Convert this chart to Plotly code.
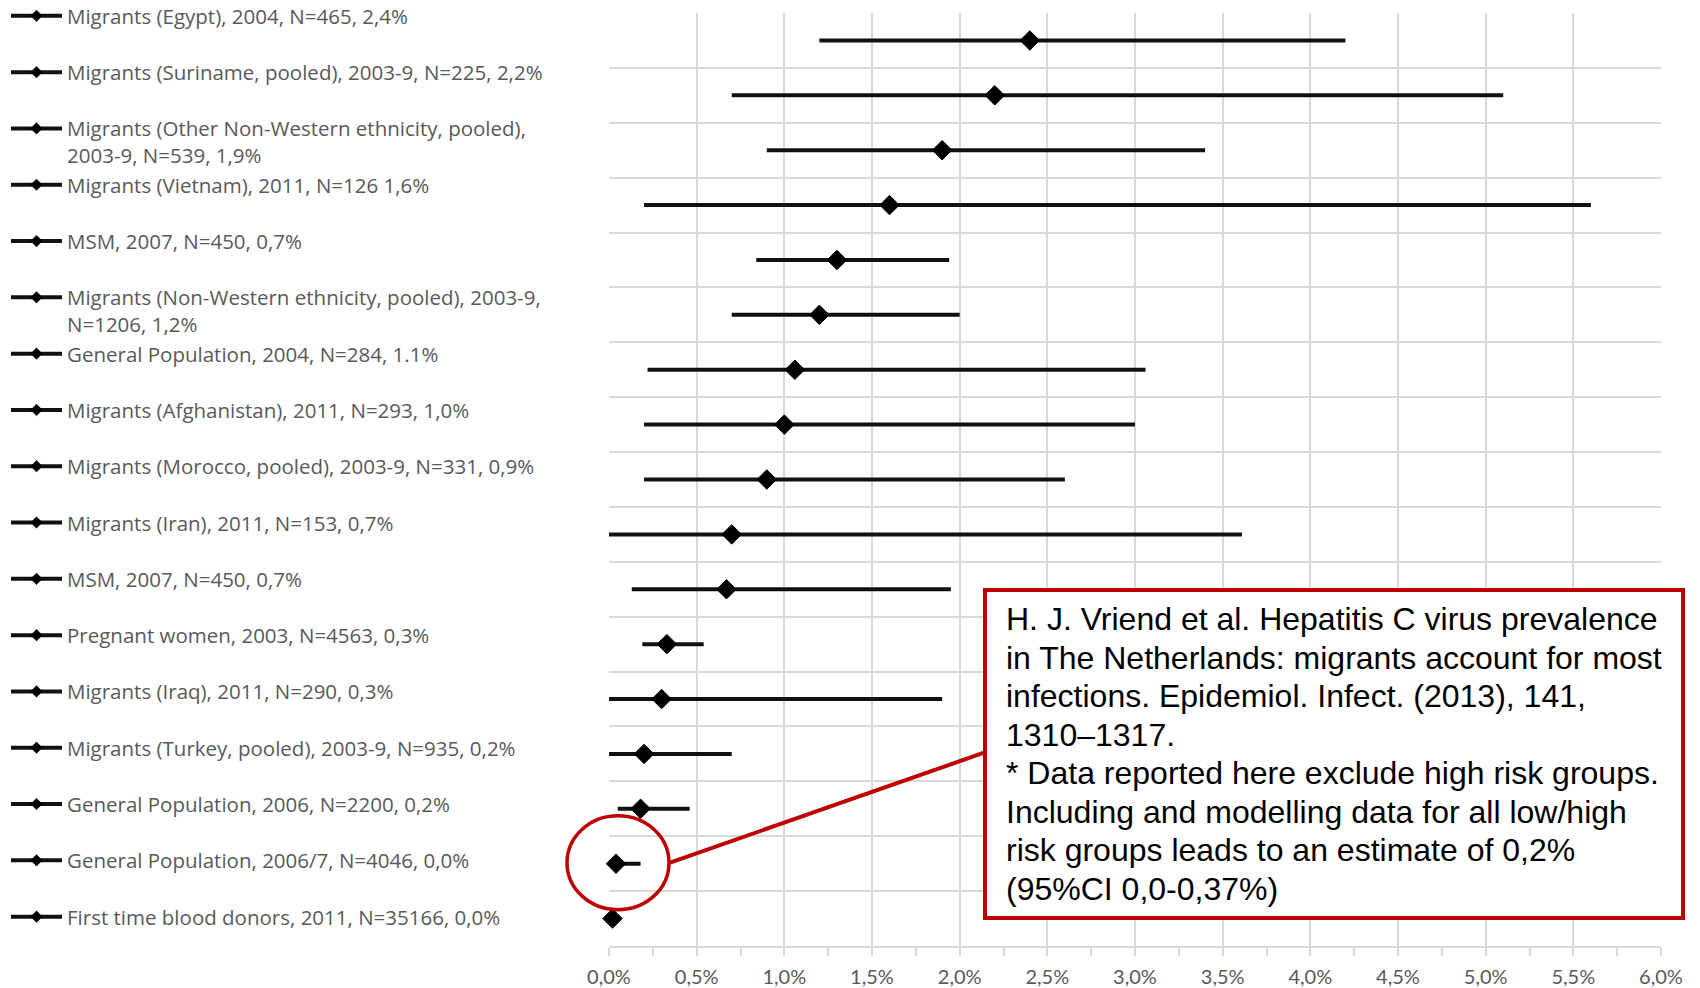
import plotly.graph_objects as go

labels = [
    "Migrants (Egypt), 2004, N=465, 2,4%",
    "Migrants (Suriname, pooled), 2003-9, N=225, 2,2%",
    "Migrants (Other Non-Western ethnicity, pooled),<br>2003-9, N=539, 1,9%",
    "Migrants (Vietnam), 2011, N=126 1,6%",
    "MSM, 2007, N=450, 0,7%",
    "Migrants (Non-Western ethnicity, pooled), 2003-9,<br>N=1206, 1,2%",
    "General Population, 2004, N=284, 1.1%",
    "Migrants (Afghanistan), 2011, N=293, 1,0%",
    "Migrants (Morocco, pooled), 2003-9, N=331, 0,9%",
    "Migrants (Iran), 2011, N=153, 0,7%",
    "MSM, 2007, N=450, 0,7%",
    "Pregnant women, 2003, N=4563, 0,3%",
    "Migrants (Iraq), 2011, N=290, 0,3%",
    "Migrants (Turkey, pooled), 2003-9, N=935, 0,2%",
    "General Population, 2006, N=2200, 0,2%",
    "General Population, 2006/7, N=4046, 0,0%",
    "First time blood donors, 2011, N=35166, 0,0%",
]
# prevalence estimate and 95% CI (in %)
est = [2.40, 2.20, 1.90, 1.60, 1.30, 1.20, 1.06, 1.00, 0.90, 0.70, 0.67, 0.33, 0.30, 0.20, 0.18, 0.04, 0.02]
lo = [1.20, 0.70, 0.90, 0.20, 0.84, 0.70, 0.22, 0.20, 0.20, 0.00, 0.13, 0.19, 0.00, 0.00, 0.05, 0.03, 0.01]
hi = [4.20, 5.10, 3.40, 5.60, 1.94, 2.00, 3.06, 3.00, 2.60, 3.61, 1.95, 0.54, 1.90, 0.70, 0.46, 0.18, 0.03]

x_range = [0.0, 6.0]
x_tickvals = [0.0, 0.5, 1.0, 1.5, 2.0, 2.5, 3.0, 3.5, 4.0, 4.5, 5.0, 5.5, 6.0]
x_ticktext = ["0,0%", "0,5%", "1,0%", "1,5%", "2,0%", "2,5%", "3,0%", "3,5%",
              "4,0%", "4,5%", "5,0%", "5,5%", "6,0%"]

note_lines = [
    "H. J. Vriend et al. Hepatitis C virus prevalence",
    "in The Netherlands: migrants account for most",
    "infections. Epidemiol. Infect. (2013), 141,",
    "1310\u20131317.",
    "* Data reported here exclude high risk groups.",
    "Including and modelling data for all low/high",
    "risk groups leads to an estimate of 0,2%",
    "(95%CI 0,0-0,37%)",
]
circled_row = 15

W, H = 1700, 988
ML, MR, MT, MB = 609, 39, 13, 42
PW, PH = W - ML - MR, H - MT - MB
n = len(labels)

def px_to_paper_x(px):
    return (px - ML) / PW

def px_to_paper_y(py):
    return 1 - (py - MT) / PH

fig = go.Figure()
for i, lab in enumerate(labels):
    name = lab if "<br>" in lab else lab + "<br> "
    # estimate first (legend takes its marker from the first point)
    fig.add_trace(go.Scatter(
        x=[est[i], lo[i], hi[i]],
        y=[i, i, i],
        mode="lines+markers",
        name=name,
        legendgroup="g%d" % i,
        cliponaxis=False,
        line=dict(color="#111111", width=4),
        marker=dict(symbol="diamond", size=[15, 6, 6], opacity=1,
                    color=["#000000", "rgba(0,0,0,0)", "rgba(0,0,0,0)"],
                    line=dict(width=[1, 0, 0], color="#000000")),
        hoverinfo="skip",
    ))

fig.update_layout(
    width=W, height=H,
    margin=dict(l=ML, r=MR, t=MT, b=MB, autoexpand=False),
    paper_bgcolor="white", plot_bgcolor="white",
    font=dict(family="Open Sans, sans-serif", color="#595959", size=20),
    showlegend=True,
    legend=dict(
        x=px_to_paper_x(6), xanchor="left",
        y=px_to_paper_y(-4), yanchor="top",
        traceorder="grouped", tracegroupgap=0,
        valign="top", itemwidth=51, itemsizing="trace",
        maxheight=988,
        font=dict(family="Open Sans, sans-serif", size=20.5, color="#595959"),
        bgcolor="rgba(0,0,0,0)",
    ),
    xaxis=dict(
        range=x_range, tickvals=x_tickvals, ticktext=x_ticktext,
        showgrid=True, gridcolor="#d9d9d9", gridwidth=1.5,
        showline=True, linecolor="#d9d9d9", linewidth=1.5,
        ticks="outside", ticklen=8, tickcolor="#d9d9d9", tickwidth=1.5,
        minor=dict(dtick=0.25, ticks="outside", ticklen=8, tickcolor="#d9d9d9",
                   tickwidth=1.5, showgrid=False),
        ticklabelstandoff=4,
        tickfont=dict(family="Lato, sans-serif", size=20, color="#595959"),
        zeroline=False, fixedrange=True,
    ),
    yaxis=dict(
        range=[n - 0.5, -0.5],
        tickvals=[k - 0.5 for k in range(n + 1)],
        showticklabels=False, ticks="",
        showgrid=True, gridcolor="#d9d9d9", gridwidth=1.5,
        zeroline=False, showline=False, fixedrange=True,
    ),
)

red = "#c00000"
# anchor (in axis-domain fractions) of the circled estimate, so the shapes are not clipped
ax = (est[circled_row] - x_range[0]) / (x_range[1] - x_range[0])
ay = 1 - (circled_row + 0.5) / n
fig.add_shape(type="circle", xref="x domain", yref="y domain",
              xsizemode="pixel", ysizemode="pixel",
              xanchor=ax, yanchor=ay,
              x0=-49, x1=53, y0=-46, y1=48,
              line=dict(color=red, width=3.5), layer="above")
fig.add_shape(type="line", xref="x domain", yref="y domain",
              xsizemode="pixel", ysizemode="pixel",
              xanchor=ax, yanchor=ay,
              x0=54, y0=1, x1=368, y1=111,
              line=dict(color=red, width=4), layer="above")
# note box
fig.add_shape(type="rect", xref="paper", yref="paper",
              x0=px_to_paper_x(985), x1=px_to_paper_x(1683),
              y0=px_to_paper_y(918), y1=px_to_paper_y(590),
              line=dict(color=red, width=4), fillcolor="white", layer="above")

for k, txt in enumerate(note_lines):
    fig.add_annotation(
        xref="paper", yref="paper",
        x=px_to_paper_x(1004), y=px_to_paper_y(619 + 38.5 * k),
        xanchor="left", yanchor="middle", showarrow=False,
        text=txt, align="left",
        font=dict(family="Liberation Sans, Arial, sans-serif", size=32, color="#000000"),
    )

fig.write_html("out.html", config={"displayModeBar": False},
               post_script="document.body.style.margin='0';")
